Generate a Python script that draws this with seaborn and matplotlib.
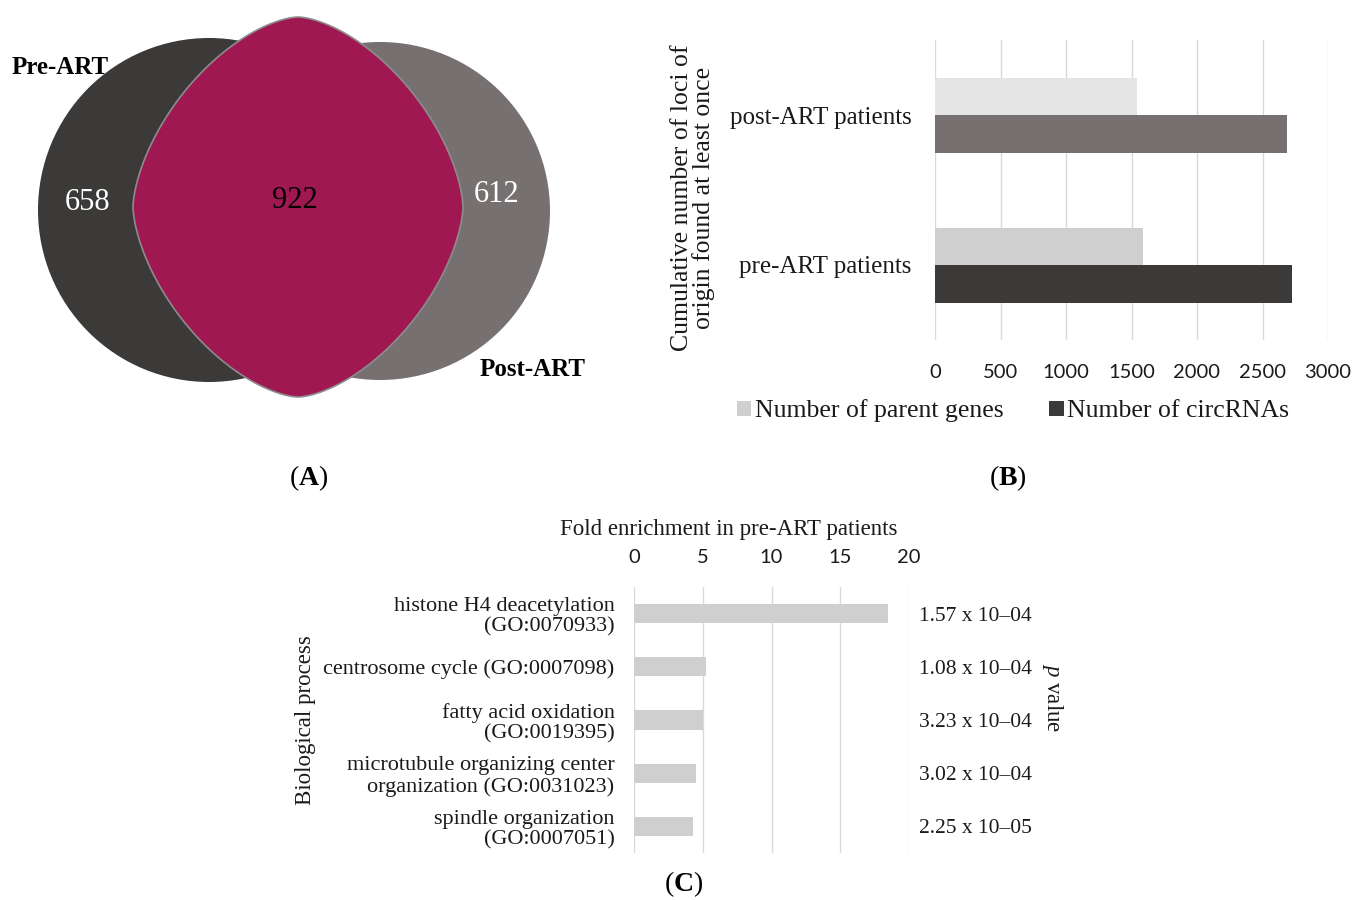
import numpy as np
import pandas as pd
import matplotlib
matplotlib.use("Agg")
import matplotlib.pyplot as plt
import seaborn as sns
from matplotlib.patches import Ellipse, Polygon, Patch

# ---------------- data ----------------
venn_sets = ["Pre-ART", "Post-ART"]
venn_counts = [658, 922, 612]          # pre only, shared, post only

b_groups = ["post-ART patients", "pre-ART patients"]
b_series = ["Number of parent genes", "Number of circRNAs"]
b_parent_genes = [1540, 1585]
b_circrnas = [2685, 2725]
b_xticks = [0, 500, 1000, 1500, 2000, 2500, 3000]

c_processes = ["histone H4 deacetylation\n(GO:0070933)",
               "centrosome cycle (GO:0007098)",
               "fatty acid oxidation\n(GO:0019395)",
               "microtubule organizing center\norganization (GO:0031023)",
               "spindle organization\n(GO:0007051)"]
c_fold = [18.5, 5.2, 5.0, 4.5, 4.3]
c_pvalues = ["1.57 x 10\u201304", "1.08 x 10\u201304", "3.23 x 10\u201304",
             "3.02 x 10\u201304", "2.25 x 10\u201305"]
c_xticks = [0, 5, 10, 15, 20]

# ---------------- style ----------------
sns.set_style("white")
plt.rcParams['font.family'] = ['Liberation Serif', 'DejaVu Serif']
plt.rcParams['mathtext.fontset'] = 'custom'
plt.rcParams['mathtext.rm'] = 'Liberation Serif'
plt.rcParams['mathtext.it'] = 'Liberation Serif:italic'
plt.rcParams['mathtext.bf'] = 'Liberation Serif:bold'

TXT = '#1a1a1a'
GRID = '#d9d9d9'
SANS = 'Lato'

W, H = 1355, 900
fig = plt.figure(figsize=(W / 100, H / 100), dpi=100)


def fx(x):
    return x / W


def fy(y):
    return 1 - y / H


def rect(l, t, r, b):
    return [l / W, 1 - b / H, (r - l) / W, (b - t) / H]


# ---------------- panel A : Venn ----------------
axA = fig.add_axes(rect(0, 0, 620, 480))
axA.set_xlim(0, 620)
axA.set_ylim(480, 0)
axA.axis('off')

left_c, left_r = (209, 210), (171, 172)
right_c, right_r = (380, 211), (170, 169)
lens_c, lens_ab, lens_n = (298, 207), (165, 190), 1.6

axA.add_patch(Ellipse(left_c, 2 * left_r[0], 2 * left_r[1], fc='#3b3a39', ec='none'))
axA.add_patch(Ellipse(right_c, 2 * right_r[0], 2 * right_r[1], fc='#767170', ec='none'))
t = np.linspace(0, 2 * np.pi, 600)
ex = 2 / lens_n
lx = lens_c[0] + lens_ab[0] * np.sign(np.cos(t)) * np.abs(np.cos(t)) ** ex
ly = lens_c[1] + lens_ab[1] * np.sign(np.sin(t)) * np.abs(np.sin(t)) ** ex
axA.add_patch(Polygon(np.column_stack([lx, ly]), closed=True, fc='#a01852',
                      ec='#8c8c8c', lw=1.2))

axA.text(88, 202, str(venn_counts[0]), color='white', fontsize=22, ha='center', va='center')
axA.text(295, 200, str(venn_counts[1]), color='black', fontsize=22, ha='center', va='center')
axA.text(497, 194, str(venn_counts[2]), color='white', fontsize=22, ha='center', va='center')
axA.text(12, 67, venn_sets[0], color='black', fontsize=18, fontweight='bold', ha='left', va='center')
axA.text(480, 369, venn_sets[1], color='black', fontsize=18, fontweight='bold', ha='left', va='center')

fig.text(fx(309), fy(478), r"($\mathbf{A}$)", fontsize=20, ha='center', va='center', color='black')
fig.text(fx(1008), fy(478), r"($\mathbf{B}$)", fontsize=20, ha='center', va='center', color='black')
fig.text(fx(684), fy(884), r"($\mathbf{C}$)", fontsize=20, ha='center', va='center', color='black')

# ---------------- panel B ----------------
dfB = pd.DataFrame({
    "group": b_groups * 2,
    "series": [b_series[0]] * len(b_groups) + [b_series[1]] * len(b_groups),
    "value": b_parent_genes + b_circrnas,
})
axB = fig.add_axes(rect(935, 40, 1328, 340))
sns.barplot(data=dfB, y="group", x="value", hue="series", order=b_groups,
            hue_order=b_series, orient='h', width=0.5, gap=0, saturation=1,
            palette=['#d0cfcf', '#3b3a39'], legend=False, ax=axB)
bar_colors = [['#e4e4e4', '#d0cfcf'], ['#767170', '#3b3a39']]
for ci, cont in enumerate(axB.containers):
    for bi, bar in enumerate(cont):
        bar.set_facecolor(bar_colors[ci][bi])
        bar.set_edgecolor('none')
axB.set_xlim(0, 3000)
axB.set_ylim(1.5, -0.5)
axB.set_xticks(b_xticks)
axB.set_xticklabels([str(v) for v in b_xticks], fontsize=14.5, family=SANS, color=TXT)
axB.set_yticks(range(len(b_groups)))
axB.set_yticklabels(b_groups, fontsize=18, color=TXT)
axB.tick_params(axis='x', length=0, pad=17)
axB.tick_params(axis='y', length=0, pad=17)
axB.grid(axis='x', color=GRID, lw=1)
axB.grid(axis='y', visible=False)
axB.set_axisbelow(True)
for s in axB.spines.values():
    s.set_visible(False)
axB.set_xlabel('')
axB.set_ylabel('')
fig.text(fx(693), fy(198), "Cumulative number of loci of\norigin found at least once",
         rotation=90, ha='center', va='center', fontsize=18.5, linespacing=1.0, color=TXT)
handles = [Patch(fc='#d0cfcf', ec='none'), Patch(fc='#3b3a39', ec='none')]
fig.legend(handles, b_series, loc='center', bbox_to_anchor=(fx(1013), fy(411)), ncol=2,
           frameon=False, fontsize=18.5, handlelength=0.55, handleheight=0.55,
           handletextpad=0.15, columnspacing=1.8, labelcolor=TXT)

# ---------------- panel C ----------------
dfC = pd.DataFrame({"process": c_processes, "fold": c_fold})
axC = fig.add_axes(rect(634, 587, 909, 853))
sns.barplot(data=dfC, y="process", x="fold", orient='h', color='#d0cfcf',
            saturation=1, width=0.36, ax=axC)
for bar in axC.patches:
    bar.set_edgecolor('none')
axC.set_xlim(0, 20)
axC.set_ylim(len(c_processes) - 0.5, -0.5)
axC.xaxis.tick_top()
axC.set_xticks(c_xticks)
axC.set_xticklabels([str(v) for v in c_xticks], fontsize=14.5, family=SANS, color=TXT)
axC.set_yticks(range(len(c_processes)))
axC.set_yticklabels(c_processes, fontsize=16, color=TXT, linespacing=1.1)
axC.tick_params(axis='x', length=0, pad=15)
axC.tick_params(axis='y', length=0, pad=14)
axC.grid(axis='x', color=GRID, lw=1)
axC.grid(axis='y', visible=False)
axC.set_axisbelow(True)
for s in axC.spines.values():
    s.set_visible(False)
axC.set_xlabel('')
axC.set_ylabel('')

ax2 = axC.twinx()
ax2.set_ylim(axC.get_ylim())
ax2.set_yticks(range(len(c_pvalues)))
ax2.set_yticklabels(c_pvalues, fontsize=15.5, color=TXT)
ax2.tick_params(axis='y', length=0, pad=7)
ax2.grid(False)
for s in ax2.spines.values():
    s.set_visible(False)

fig.text(fx(729), fy(530), "Fold enrichment in pre-ART patients", ha='center', va='center',
         fontsize=16.5, color=TXT)
fig.text(fx(306), fy(720), "Biological process", rotation=90, ha='center', va='center',
         fontsize=16.5, color=TXT)
fig.text(fx(1053), fy(698), r"$p$ value", rotation=-90, ha='center', va='center',
         fontsize=16.5, color=TXT)

fig.savefig("out.png", dpi=100)
